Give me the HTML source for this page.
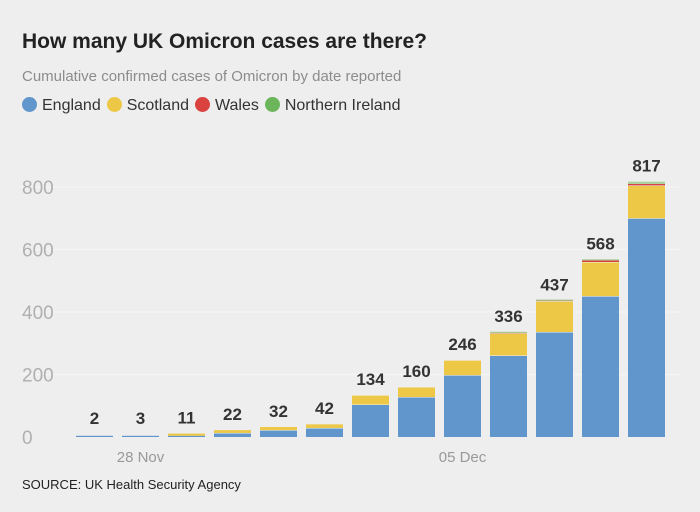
<!DOCTYPE html>
<html><head><meta charset="utf-8">
<style>
body{margin:0;background:#eeeeee;font-family:"Liberation Sans",sans-serif;}
#wrap{position:relative;width:700px;height:512px;background:#eeeeee;overflow:hidden}
h1{position:absolute;left:22px;top:30px;margin:0;font-size:21px;font-weight:bold;color:#222}
.sub{position:absolute;left:22px;top:68px;font-size:15px;color:#8c8c8c}
.legend{position:absolute;left:22px;top:97px;font-size:16px;color:#333;display:flex;gap:6px;align-items:center}
.dot{display:inline-block;width:15px;height:15px;border-radius:50%;margin-right:5px;vertical-align:-2px}
.src{position:absolute;left:22px;top:477px;font-size:13px;color:#222}
</style></head><body>
<div id="wrap">
<h1>How many UK Omicron cases are there?</h1>
<div class="sub">Cumulative confirmed cases of Omicron by date reported</div>
<div class="legend">
<span><span class="dot" style="background:#6096cc"></span>England</span>
<span><span class="dot" style="background:#ecc846"></span>Scotland</span>
<span><span class="dot" style="background:#d9423e"></span>Wales</span>
<span><span class="dot" style="background:#6cb55a"></span>Northern Ireland</span>
</div>
<svg id="chart" width="700" height="512" style="position:absolute;left:0;top:0"></svg>
<div class="src">SOURCE: UK Health Security Agency</div>
</div>
<script>
const totals=[2,3,11,22,32,42,134,160,246,336,437,568,817];
const england=[2,3,4,13,22,29,104,128,198,261,336,451,700];
const scotland=[0,0,7,9,10,13,30,32,48,71,99,109,105];
const wales=[0,0,0,0,0,0,0,0,0,1,1,5,5];
const nireland=[0,0,0,0,0,0,0,0,0,3,1,3,7];
const yTicks=[0,200,400,600,800];
const xLabels=[{i:1,t:"28 Nov"},{i:8,t:"05 Dec"}];
const ns="http://www.w3.org/2000/svg";
const svg=document.getElementById('chart');
const y0=437,k=250/800;
const y=v=>y0-v*k;
const x=i=>76+i*46;
const bw=37;
function el(tag,attrs){const e=document.createElementNS(ns,tag);for(const a in attrs)e.setAttribute(a,attrs[a]);svg.appendChild(e);return e;}
yTicks.forEach(t=>{
  if(t>0){const g=el('line',{x1:20,x2:680,y1:y(t),y2:y(t),stroke:'#f4f4f4','stroke-width':1.5});
  
  }
  const tx=el('text',{x:22,y:y(t)+7,'font-size':19,fill:'#b0b0b0','font-family':'Liberation Sans, sans-serif'});
  tx.textContent=t;
  
  
});
const series=[[england,'#6096cc','england'],[scotland,'#ecc846','scotland'],[wales,'#d9423e','wales'],[nireland,'#a8d29a','northern-ireland']];
totals.forEach((tot,i)=>{
  let base=0;
  series.forEach(([arr,col,nm])=>{
    const v=arr[i];if(v<=0)return;
    const h=Math.max(v*k,1.2);
    const r=el('rect',{x:x(i),y:y(base)-h,width:bw,height:h,fill:col});
    
    
    base+=v;
    if(v*k>4){const s=el('line',{x1:x(i),x2:x(i)+bw,y1:y(base),y2:y(base),stroke:'#eeeeee','stroke-width':1});
    
    }
  });
  const t=el('text',{x:x(i)+bw/2,y:Math.min(y(tot),y0-3)-10,'text-anchor':'middle','font-size':17,'font-weight':'bold',fill:'#333','font-family':'Liberation Sans, sans-serif'});
  t.textContent=tot;
  
  
});
xLabels.forEach(l=>{
  const t=el('text',{x:x(l.i)+bw/2,y:462,'text-anchor':'middle','font-size':15,fill:'#999','font-family':'Liberation Sans, sans-serif'});
  t.textContent=l.t;
  
  
});
</script>
</body></html>
